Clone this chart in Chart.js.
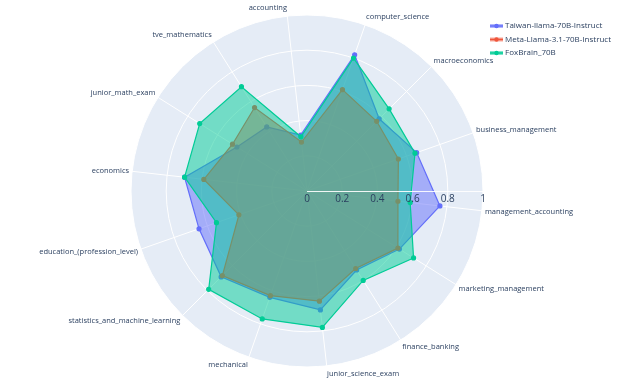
<!DOCTYPE html>
<html>
<head>
<meta charset="utf-8">
<script src="https://cdn.jsdelivr.net/npm/chart.js@4.4.1/dist/chart.umd.min.js"></script>
<style>
  html, body { margin: 0; padding: 0; background: #fff; }
  #wrap { width: 640px; height: 384px; }
</style>
</head>
<body>
<div id="wrap"><canvas id="radar" width="640" height="384"></canvas></div>
<script>
// categories, counter-clockwise starting just below east (as in the picture)
const categories = [
  "management_accounting", "business_management", "macroeconomics", "computer_science",
  "accounting", "tve_mathematics", "junior_math_exam", "economics",
  "education_(profession_level)", "statistics_and_machine_learning", "mechanical",
  "junior_science_exam", "finance_banking", "marketing_management"
];
const taiwanLlama = [0.76, 0.66, 0.58, 0.82, 0.32, 0.43, 0.47, 0.70, 0.65, 0.69, 0.64, 0.68, 0.53, 0.62];
const metaLlama   = [0.52, 0.55, 0.56, 0.61, 0.28, 0.56, 0.50, 0.59, 0.41, 0.68, 0.63, 0.63, 0.52, 0.61];
const foxBrain    = [0.59, 0.65, 0.66, 0.80, 0.31, 0.70, 0.72, 0.70, 0.545, 0.79, 0.77, 0.78, 0.60, 0.715];
const seriesNames = ["Taiwan-llama-70B-Instruct", "Meta-Llama-3.1-70B-Instruct", "FoxBrain_70B"];
const radialTicks = [0, 0.2, 0.4, 0.6, 0.8, 1];

const colors = ["#636efa", "#EF553B", "#00cc96"];
const fills = ["rgba(99,110,250,0.5)", "rgba(239,85,59,0.5)", "rgba(0,204,150,0.5)"];

// chart.js goes clockwise, the picture goes counter-clockwise -> reverse
const rev = a => a.slice().reverse();

const fontFam = '"Open Sans", "DejaVu Sans", sans-serif';
const txtColor = '#2a3f5f';

const decor = {
  id: 'decor',
  beforeDraw(chart) {
    const r = chart.scales.r, ctx = chart.ctx;
    ctx.save();
    ctx.fillStyle = '#E5ECF6';
    ctx.beginPath();
    ctx.arc(r.xCenter, r.yCenter, r.drawingArea, 0, Math.PI * 2);
    ctx.fill();
    ctx.restore();
  },
  afterDatasetsDraw(chart) {
    const r = chart.scales.r, ctx = chart.ctx;
    ctx.save();
    // radial axis, drawn above traces like plotly
    ctx.strokeStyle = 'rgba(255,255,255,0.9)';
    ctx.lineWidth = 1;
    ctx.beginPath();
    ctx.moveTo(r.xCenter, r.yCenter + 0.5);
    ctx.lineTo(r.xCenter + r.drawingArea, r.yCenter + 0.5);
    ctx.stroke();
    ctx.fillStyle = txtColor;
    ctx.font = '10px ' + fontFam;
    ctx.textAlign = 'center';
    ctx.textBaseline = 'top';
    radialTicks.forEach(v => {
      ctx.fillText(String(v), r.xCenter + r.getDistanceFromCenterForValue(v), r.yCenter + 3);
    });

    // angular labels
    ctx.font = '7.5px ' + fontFam;
    chart.data.labels.forEach((lab, i) => {
      const a = r.getIndexAngle(i) - Math.PI / 2;
      const c = Math.cos(a), s = Math.sin(a);
      const p = r.getPointPosition(i, r.drawingArea + 3);
      ctx.textAlign = c > 0.05 ? 'left' : (c < -0.05 ? 'right' : 'center');
      ctx.textBaseline = 'middle';
      ctx.fillText(lab, p.x, p.y + s * 5);
    });

    // legend
    ctx.font = '8px ' + fontFam;
    ctx.textAlign = 'left';
    ctx.textBaseline = 'middle';
    seriesNames.forEach((name, i) => {
      const y = 26 + i * 13.5;
      ctx.fillStyle = fills[i];
      ctx.fillRect(490, y - 2, 13, 4);
      ctx.strokeStyle = colors[i];
      ctx.lineWidth = 1.5;
      ctx.beginPath(); ctx.moveTo(490, y); ctx.lineTo(503, y); ctx.stroke();
      ctx.fillStyle = colors[i];
      ctx.beginPath(); ctx.arc(496.5, y, 2.2, 0, Math.PI * 2); ctx.fill();
      ctx.fillStyle = txtColor;
      ctx.fillText(name, 505, y);
    });
    ctx.restore();
  }
};

const allSeries = [taiwanLlama, metaLlama, foxBrain];

new Chart(document.getElementById('radar'), {
  type: 'radar',
  data: {
    labels: rev(categories),
    datasets: allSeries.map((vals, i) => ({
      label: seriesNames[i],
      data: rev(vals),
      borderColor: colors[i],
      backgroundColor: fills[i],
      pointBackgroundColor: colors[i],
      pointBorderColor: colors[i],
      pointRadius: 2,
      borderWidth: 1.2,
      fill: true,
      order: 3 - i
    }))
  },
  options: {
    responsive: false,
    animation: false,
    plugins: { legend: { display: false }, tooltip: { enabled: false } },
    scales: {
      r: {
        min: 0,
        max: 1,
        startAngle: 122.14,
        ticks: { display: false, stepSize: 0.2 },
        pointLabels: { display: false },
        grid: { circular: true, color: '#ffffff', lineWidth: 1 },
        angleLines: { color: '#ffffff', lineWidth: 1 },
        afterFit(scale) {
          scale.xCenter = 307;
          scale.yCenter = 191;
          scale.drawingArea = 176;
        }
      }
    }
  },
  plugins: [decor]
});
</script>
</body>
</html>
